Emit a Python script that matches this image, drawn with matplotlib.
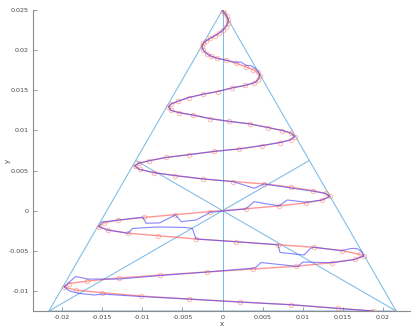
import numpy as np
import matplotlib
matplotlib.use("Agg")
import matplotlib.pyplot as plt

# triangle (equilateral, circumradius 0.025) and its medians
TRI_X = [0.0, -0.02165, 0.02165, 0.0]
TRI_Y = [0.025, -0.0125, -0.0125, 0.025]
MED_X = [[0.0, 0.0], [-0.02165, 0.010825], [0.02165, -0.010825]]
MED_Y = [[0.025, -0.0125], [-0.0125, 0.00625], [-0.0125, 0.00625]]

# reference spiral with sample markers (red)
RED_X = [0.0, 0.00021, 0.00052, 0.00071, 0.00065, 0.00042, 0.00002, -0.00041, -0.00097, -0.00153,
         -0.00202, -0.0024, -0.00256, -0.0024, -0.00196, -0.0014, -0.00066, 0.00046, 0.0017, 0.00294,
         0.00381, 0.00437, 0.00468, 0.00437, 0.00394, 0.00278, 0.00124, -0.0006, -0.00248, -0.00422,
         -0.00559, -0.00637, -0.00675, -0.00643, -0.00547, -0.00373, -0.00153, 0.00083, 0.0034, 0.00568,
         0.00745, 0.00853, 0.00899, 0.0085, 0.00713, 0.00489, 0.00207, -0.00103, -0.00414, -0.00703,
         -0.00923, -0.01047, -0.01097, -0.01035, -0.00857, -0.00588, -0.0024, 0.00133, 0.00518, 0.0085,
         0.0113, 0.01288, 0.01338, 0.01242, 0.01036, 0.00704, 0.00298, -0.00153, -0.00591, -0.00985,
         -0.01304, -0.01482, -0.01544, -0.01432, -0.0118, -0.00805, -0.0033, 0.00174, 0.00692, 0.01139,
         0.01491, 0.01711, 0.0176, 0.01648, 0.01359, 0.00919, 0.00385, -0.00194, -0.00774, -0.01292,
         -0.01684, -0.01917, -0.01975, -0.0183, -0.01503, -0.01014, -0.00422, 0.0022, 0.00857, 0.01437,
         0.01872]
RED_Y = [0.0249, 0.02465, 0.02428, 0.02378, 0.02334, 0.02291, 0.02247, 0.02212, 0.02178, 0.02147,
         0.02116, 0.02085, 0.02045, 0.01998, 0.01954, 0.01923, 0.01898, 0.01873, 0.01835, 0.01792,
         0.01754, 0.01723, 0.0168, 0.01623, 0.01592, 0.01559, 0.0153, 0.01484, 0.01449, 0.01409,
         0.01362, 0.0133, 0.01293, 0.01249, 0.01222, 0.01191, 0.01146, 0.01112, 0.01081, 0.01035,
         0.00998, 0.00966, 0.00923, 0.00882, 0.00848, 0.0081, 0.00769, 0.00738, 0.00698, 0.00663,
         0.0062, 0.00589, 0.00557, 0.00514, 0.00474, 0.00436, 0.00395, 0.00362, 0.00333, 0.00292,
         0.00249, 0.00214, 0.00177, 0.00133, 0.00096, 0.00059, 0.00024, -0.00012, -0.0005, -0.00085,
         -0.00118, -0.00153, -0.002, -0.00241, -0.00281, -0.00312, -0.00353, -0.00387, -0.00425, -0.00456,
         -0.00499, -0.00544, -0.00565, -0.00608, -0.00648, -0.00693, -0.00727, -0.00764, -0.00802, -0.00839,
         -0.00877, -0.00908, -0.00951, -0.0099, -0.01022, -0.01064, -0.01101, -0.01138, -0.01172, -0.01217,
         -0.0125]

# tracked path (blue)
BLUE_X = [0.0, 0.00021, 0.00052, 0.00071, 0.00065, 0.00042, 0.00002, -0.00041, -0.00097, -0.00153,
          -0.00202, -0.0024, -0.00256, -0.0024, -0.00196, -0.0014, -0.00066, 0.00046, 0.0017, 0.00232,
          0.00294, 0.00357, 0.00406, 0.0045, 0.00468, 0.00437, 0.00394, 0.00278, 0.00124, -0.0006,
          -0.00248, -0.00422, -0.00559, -0.00637, -0.00675, -0.00643, -0.00547, -0.00373, -0.00153, 0.00083,
          0.0034, 0.00568, 0.00745, 0.00853, 0.00899, 0.0085, 0.00713, 0.00489, 0.00207, -0.00103,
          -0.00414, -0.00703, -0.00923, -0.01047, -0.01097, -0.01035, -0.00857, -0.00588, -0.0024, 0.00133,
          0.00395, 0.00518, 0.0085, 0.0113, 0.01288, 0.01338, 0.01242, 0.01043, 0.00807, 0.00704,
          0.00394, 0.00291, -0.00153, -0.00327, -0.00513, -0.00588, -0.00786, -0.00952, -0.00994, -0.01304,
          -0.01507, -0.01544, -0.01432, -0.0118, -0.01122, -0.00811, -0.00476, -0.00376, -0.0033, 0.00174,
          0.00692, 0.00717, 0.01015, 0.01098, 0.01139, 0.01491, 0.01599, 0.01673, 0.01735, 0.0176,
          0.01648, 0.01362, 0.01002, 0.0094, 0.00481, 0.00406, -0.00194, -0.00774, -0.01292, -0.01681,
          -0.0183, -0.01954, -0.01975, -0.01905, -0.0178, -0.01594, -0.01503, -0.01014, -0.00422, 0.0022,
          0.00857, 0.01437, 0.01872]
BLUE_Y = [0.0249, 0.02465, 0.02428, 0.02378, 0.02334, 0.02291, 0.02247, 0.02212, 0.02178, 0.02147,
          0.02116, 0.02085, 0.02045, 0.01998, 0.01954, 0.01923, 0.01898, 0.01873, 0.01848, 0.0185,
          0.0181, 0.01804, 0.01773, 0.0173, 0.0168, 0.01623, 0.01592, 0.01559, 0.0153, 0.01484,
          0.01449, 0.01409, 0.01362, 0.0133, 0.01293, 0.01249, 0.01222, 0.01191, 0.01146, 0.01112,
          0.01081, 0.01035, 0.00998, 0.00966, 0.00923, 0.00882, 0.00848, 0.0081, 0.00769, 0.00738,
          0.00698, 0.00663, 0.0062, 0.00589, 0.00557, 0.00514, 0.00474, 0.00436, 0.00395, 0.00362,
          0.00279, 0.00333, 0.00282, 0.00242, 0.00214, 0.00177, 0.00133, 0.00105, 0.00133, 0.00059,
          0.00112, 0.00021, -0.0002, -0.00116, -0.00137, -0.00054, -0.00153, -0.00157, -0.00082, -0.00118,
          -0.00141, -0.002, -0.00241, -0.00281, -0.00222, -0.00203, -0.00209, -0.00222, -0.00353, -0.00387,
          -0.00425, -0.00521, -0.00552, -0.00469, -0.00456, -0.00499, -0.00471, -0.00471, -0.00509, -0.00565,
          -0.00608, -0.00648, -0.0064, -0.00696, -0.00646, -0.00714, -0.00764, -0.00808, -0.00852, -0.00852,
          -0.0082, -0.00926, -0.00951, -0.01001, -0.01032, -0.01051, -0.01039, -0.0107, -0.01101, -0.01138,
          -0.01172, -0.01217, -0.0125]

XTICKS = [-0.02, -0.015, -0.01, -0.005, 0, 0.005, 0.01, 0.015, 0.02]
XTICKLABELS = ["-0.02", "-0.015", "-0.01", "-0.005", "0", "0.005", "0.01", "0.015", "0.02"]
YTICKS = [-0.01, -0.005, 0, 0.005, 0.01, 0.015, 0.02, 0.025]
YTICKLABELS = ["-0.01", "-0.005", "0", "0.005", "0.01", "0.015", "0.02", "0.025"]

TRI_C = "#7cbbe6"
AX_C = "#8c8c8c"

fig = plt.figure(figsize=(4.11, 3.31), dpi=100)
ax = fig.add_axes([0.081, 0.0604, 0.917, 0.9096])

ax.plot(TRI_X, TRI_Y, color=TRI_C, lw=0.75, zorder=2)
for mx, my in zip(MED_X, MED_Y):
    ax.plot(mx, my, color=TRI_C, lw=0.75, zorder=2)

ax.plot(RED_X, RED_Y, color="#ff5050", alpha=0.6, lw=1.0, marker="o", ms=3.2,
        mfc="none", mec="#f58a78", mew=0.7, zorder=3)
ax.plot(BLUE_X, BLUE_Y, color="#4545ff", alpha=0.65, lw=0.8, zorder=4)

ax.set_xlim(-0.0236, 0.0234)
ax.set_ylim(-0.0125, 0.025)
ax.set_xticks(XTICKS)
ax.set_xticklabels(XTICKLABELS)
ax.set_yticks(YTICKS)
ax.set_yticklabels(YTICKLABELS)
ax.tick_params(direction="in", length=3, width=0.6, color=AX_C, labelcolor="#444444",
               labelsize=4.6, pad=3)
for s in ("top", "right"):
    ax.spines[s].set_visible(False)
for s in ("left", "bottom"):
    ax.spines[s].set_color(AX_C)
    ax.spines[s].set_linewidth(0.8)
ax.set_xlabel("x", fontsize=5, color="#444444")
ax.set_ylabel("y", fontsize=5, color="#444444")
ax.xaxis.set_label_coords(0.5, -0.033)
ax.yaxis.set_label_coords(-0.06, 0.5)

fig.savefig("out.png", dpi=100)
